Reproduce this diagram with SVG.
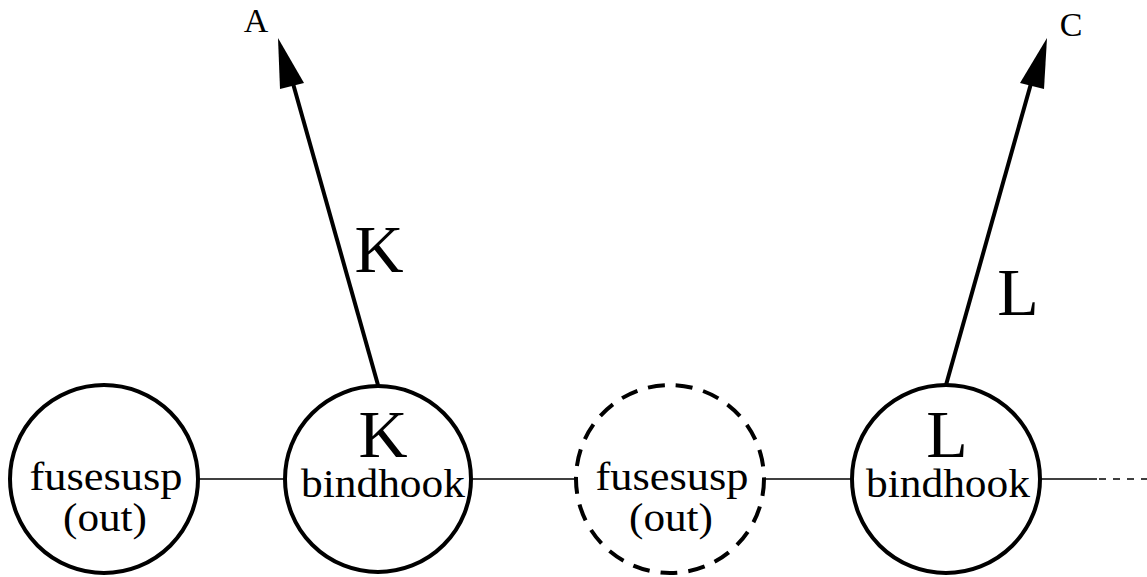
<svg xmlns="http://www.w3.org/2000/svg" width="1147" height="577" viewBox="0 0 1147 577">
<style>
.node{fill:#fff;stroke:#000;stroke-width:4}
.dash{stroke-dasharray:17 11}
.t{font-family:"Liberation Serif",serif;fill:#000;text-anchor:middle}
.s{font-size:41px}
.big{font-size:68px}
.edge{stroke:#000;stroke-width:1.5;fill:none}
.arr{stroke:#000;stroke-width:4;fill:none}
</style>
<g id="connectors">
<line class="edge" x1="199" y1="479" x2="285" y2="479"/>
<line class="edge" x1="472" y1="479" x2="577" y2="479"/>
<line class="edge" x1="764" y1="479" x2="852" y2="479"/>
<line class="edge" x1="1040" y1="479" x2="1097" y2="479"/>
<line class="edge" x1="1099" y1="479" x2="1147" y2="479" stroke-dasharray="7 7"/>
<line class="arr" x1="378" y1="385" x2="292" y2="80"/>
<polygon points="278,38 280,89 304,83" fill="#000"/>
<line class="arr" x1="946" y1="385" x2="1032" y2="80"/>
<polygon points="1047,38 1020,83 1044,89" fill="#000"/>
<text class="t" x="256" y="32" font-size="34">A</text>
<text class="t" x="1071" y="36" font-size="34">C</text>
<text class="t big" x="379" y="272">K</text>
<text class="t big" x="1018" y="315">L</text>
</g>
<g id="n1">
<circle class="node" cx="104" cy="479" r="94"/>
<text class="t s" x="106" y="490" textLength="153" lengthAdjust="spacingAndGlyphs">fusesusp</text>
<text class="t s" x="105" y="531" textLength="84" lengthAdjust="spacingAndGlyphs">(out)</text>
</g>
<g id="n2">
<circle class="node" cx="378" cy="479" r="93"/>
<text class="t big" x="383" y="457">K</text>
<text class="t s" x="383" y="497" textLength="164" lengthAdjust="spacingAndGlyphs">bindhook</text>
</g>
<g id="n3">
<circle class="node dash" cx="670" cy="479" r="94"/>
<text class="t s" x="672" y="490" textLength="153" lengthAdjust="spacingAndGlyphs">fusesusp</text>
<text class="t s" x="671" y="531" textLength="84" lengthAdjust="spacingAndGlyphs">(out)</text>
</g>
<g id="n4">
<circle class="node" cx="946" cy="479" r="94"/>
<text class="t big" x="947" y="457">L</text>
<text class="t s" x="948" y="497" textLength="164" lengthAdjust="spacingAndGlyphs">bindhook</text>
</g>
</svg>
